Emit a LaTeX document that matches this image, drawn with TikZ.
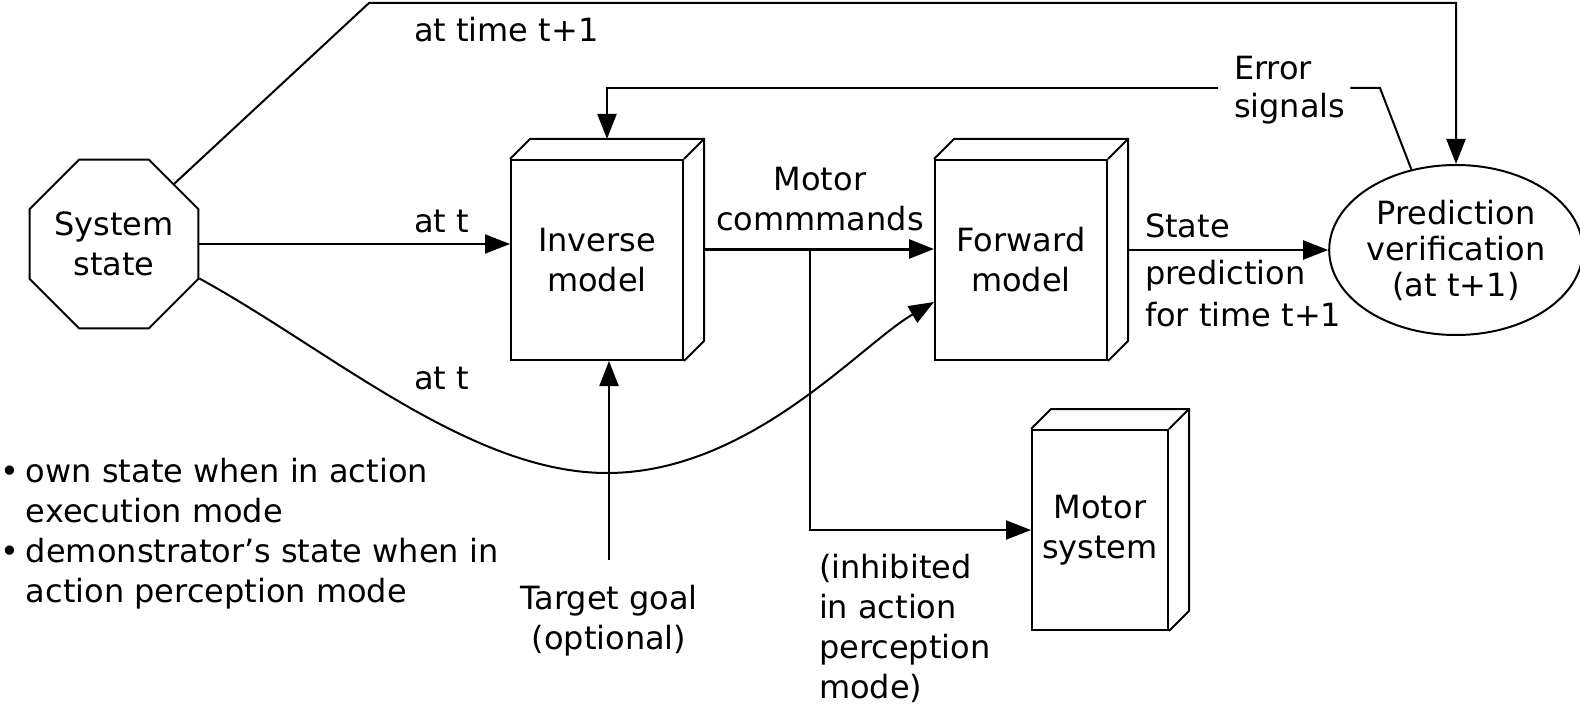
\documentclass[tikz,border=0pt]{standalone}
\usepackage{fontspec}
\setmainfont{DejaVu Sans}
\usetikzlibrary{positioning,arrows.meta,shapes.geometric,calc}
% top and side faces of a box drawn as a solid
\newcommand{\boxdepth}[1]{%
  \draw[line join=miter] (#1.north west) -- ++(20,-20) -- ($(#1.north east)+(20,-20)$)
    -- ($(#1.south east)+(20,-20)$) -- (#1.south east);
  \draw (#1.north east) -- ++(20,-20);}

\begin{document}
\begin{tikzpicture}[
  x=0.5pt,y=-0.5pt,
  font=\fontsize{16}{20}\selectfont,
  line width=1pt,
  block/.style={draw,rectangle,align=center,inner sep=0pt,
                minimum width=86pt,minimum height=100pt},
  lbl/.style={align=left,inner sep=0pt},
  arr/.style={-{Triangle[length=12.5pt,width=9.5pt]}}
]
\useasboundingbox (0,0) rectangle (1580,706);

% state, models and verification
\node[draw,regular polygon,regular polygon sides=8,minimum size=89pt,
      inner sep=0pt,align=center] (sys) at (114,244) {System\\state};
\node[block] (inv) at (597,260) {Inverse\\model};
\node[block] (fwd) at (1021,260) {Forward\\model};
\node[block,minimum width=68pt] (mot) at (1100,530) {Motor\\system};
\node[draw,ellipse,minimum width=117.5pt,minimum height=85pt,inner sep=0pt,
      align=center,font=\fontsize{16}{18}\selectfont] (pv) at (1456,250)
  {Prediction\\verification\\(at t+1)};
\boxdepth{inv}
\boxdepth{fwd}
\boxdepth{mot}

% labels (base = last line)
\node[lbl,anchor=base west] (tnext) at (413,42) {at time t+1};
\node[lbl,anchor=base west] (tnow) at (413,232) {at t};
\node[lbl,anchor=base west] (tnowb) at (413,389) {at t};
\node[lbl,align=center] (cmd) at (820,199) {Motor\\commmands};
\node[lbl,anchor=base west] (state) at (1144,237) {State};
\node[lbl,anchor=base west,font=\fontsize{16}{21}\selectfont] (pred) at (1144,326)
  {prediction\\for time t+1};
\node[lbl,anchor=base west,font=\fontsize{16}{19}\selectfont] (err) at (1233,118)
  {Error\\signals};
\node[lbl,align=center,anchor=base] (goal) at (609,649) {Target goal\\(optional)};
\node[lbl,anchor=base west] (inhib) at (818,698)
  {(inhibited\\in action\\perception\\mode)};
\node[lbl,anchor=base west] (modes) at (0,482)
  {\begin{tabular}[t]{@{}l@{}l@{}}
   \makebox[12.5pt][l]{\textbullet} & own state when in action\\
    & execution mode\\
   \makebox[12.5pt][l]{\textbullet} & demonstrator’s state when in\\
    & action perception mode
   \end{tabular}};

% connectors
\coordinate (topbend) at (369,3);
\coordinate (low) at (607,473);
\coordinate (split) at (810,249);
\coordinate (errbend) at (1380,88);
\coordinate (errR) at ($(err.east)+(4,0)$);
\coordinate (errL) at ($(err.west)+(-15,0)$);

\draw[arr] (sys.45) -- (topbend) -| (pv.north);
\draw[arr] (sys.east) -- (sys.east -| inv.west);
\draw[arr] (sys.-22) .. controls (330,350) and (470,473) .. (low)
  .. controls (750,473) and (860,345) .. ([yshift=-21pt]fwd.west);
\draw[arr,line width=1.5pt] ([shift={(10pt,5.5pt)}]inv.east) -- ([yshift=5.5pt]fwd.west);
\draw[arr] (split) |- (mot.west);
\draw[arr] ([xshift=10pt]fwd.east |- pv.west) -- (pv.west);
\draw (pv.119) -- (errbend) -- (errR |- errbend);
\draw[arr] (errL |- errbend) -| ([shift={(5pt,10pt)}]inv.north);
\draw[arr] ([yshift=12pt]goal.north) -- (goal.north |- inv.south);
\end{tikzpicture}
\end{document}
